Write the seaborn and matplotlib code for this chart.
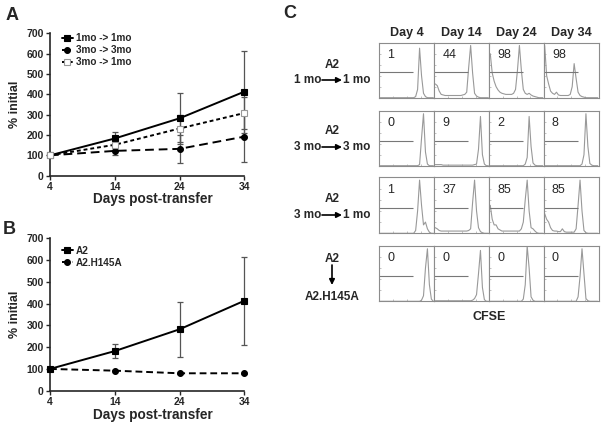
import numpy as np
import matplotlib.pyplot as plt
import seaborn as sns

sns.set_style('ticks')
plt.rcParams['font.family'] = ['Liberation Sans', 'DejaVu Sans']

W, H = 603, 424

# ---------------- data ----------------
days = [4, 14, 24, 34]

# Panel A: % initial
a_1to1 = [100, 183, 282, 413]
a_1to1_err = [0, 32, 125, 202]
a_3to3 = [100, 122, 132, 192]
a_3to3_err = [0, 20, 68, 123]
a_3to1 = [100, 152, 232, 308]
a_3to1_err = [0, 15, 65, 80]

# Panel B: % initial
b_a2 = [100, 182, 282, 413]
b_a2_err = [0, 33, 125, 202]
b_h145a = [100, 92, 80, 80]
b_h145a_err = [0, 3, 3, 3]

# Panel C: CFSE histograms (28 bins, relative counts)
day_labels = ['Day 4', 'Day 14', 'Day 24', 'Day 34']
row_from = ['1 mo', '3 mo', '3 mo']
row_to = ['1 mo', '3 mo', '1 mo']
pct_divided = [[1, 44, 98, 98],
               [0, 9, 2, 8],
               [1, 37, 85, 85],
               [0, 0, 0, 0]]

hist_1to1 = [
    [0]*18 + [2, 15, 90, 40, 8, 2] + [0]*4,
    [25, 22, 12, 6, 5] + [4]*9 + [5, 6, 10, 55, 95, 45, 8, 3, 1] + [0]*5,
    [80, 45, 30, 20, 14, 10, 8, 7, 6, 6, 6, 6, 8, 15, 50, 95, 50, 15, 8, 6,
     8, 5, 3, 2, 1, 0, 0, 0],
    [95, 40, 25, 12, 8, 6, 10, 5, 4, 4, 4, 4, 4, 6, 20, 62, 35, 10, 4, 2,
     1] + [0]*7,
]
hist_3to3 = [
    [0]*20 + [2, 50, 95, 25, 3] + [0]*3,
    [2]*4 + [1]*16 + [2, 3, 30, 90, 20, 3, 0, 0],
    [0]*18 + [3, 15, 90, 35, 5, 1] + [0]*4,
    [0]*19 + [3, 20, 95, 35, 4, 1] + [0]*3,
]
hist_3to1 = [
    [0]*18 + [5, 40, 95, 50, 15, 20, 8, 2] + [0]*2,
    [10, 8, 5] + [4]*14 + [5, 8, 55, 95, 40, 10, 3, 1, 0, 0, 0],
    [50, 25, 15, 15, 8, 6] + [4]*10 + [8, 20, 60, 95, 40, 10, 8, 4, 1, 0, 0, 0],
    [35, 25, 20, 10, 5, 4, 4, 3, 3, 8, 3] + [2]*5 + [8, 50, 95, 40, 5, 1] + [0]*6,
]
hist_h145a = [
    [0]*21 + [2, 10, 60, 95, 30, 4, 0],
    [1]*19 + [2, 5, 12, 50, 92, 25, 3, 0, 0],
    [0]*17 + [4, 30, 100, 60, 8, 2] + [0]*5,
    [0]*17 + [8, 45, 95, 50, 5, 1] + [0]*5,
]
histograms = [hist_1to1, hist_3to3, hist_3to1, hist_h145a]
gate_level = 46

# ---------------- figure ----------------
fig = plt.figure(figsize=(W / 100, H / 100), dpi=100)

ov = fig.add_axes([0, 0, 1, 1])
ov.set_xlim(0, W)
ov.set_ylim(H, 0)
ov.axis('off')


def px_axes(x0, y0, x1, y1):
    return fig.add_axes([x0 / W, 1 - y1 / H, (x1 - x0) / W, (y1 - y0) / H])


def draw_series(ax, y, err, label, ls, marker, mfc, mec='black'):
    ax.errorbar(days, y, yerr=err, fmt='none', ecolor='#555555',
                elinewidth=0.9, capsize=2.2, capthick=0.9, clip_on=False,
                zorder=2)
    sns.lineplot(x=days, y=y, ax=ax, color='black', linestyle=ls,
                 marker=marker, markersize=4.2, markerfacecolor=mfc,
                 markeredgecolor=mec, markeredgewidth=0.8, linewidth=1.4,
                 label=label, errorbar=None, clip_on=False, zorder=3)


def style_line_axes(ax, xlab_y):
    ax.set_xlim(4, 34)
    ax.set_ylim(0, 700)
    ax.set_xticks(days)
    ax.set_yticks(range(0, 701, 100))
    sns.despine(ax=ax)
    for s in ['left', 'bottom']:
        ax.spines[s].set_linewidth(1.2)
    ax.tick_params(direction='out', length=3, width=1, pad=1.5, labelsize=7.5)
    for t in ax.get_xticklabels() + ax.get_yticklabels():
        t.set_fontweight('bold')
    ax.set_xlabel('Days post-transfer', fontsize=9.8, fontweight='bold')
    ax.set_ylabel('% initial', fontsize=9, fontweight='bold')
    ax.xaxis.set_label_coords(0.53, xlab_y)
    ax.yaxis.set_label_coords(-0.15, 0.5)


# Panel A
axA = px_axes(50, 33.3, 244.3, 175.7)
draw_series(axA, a_1to1, a_1to1_err, '1mo -> 1mo', '-', 's', 'black')
draw_series(axA, a_3to3, a_3to3_err, '3mo -> 3mo', (0, (4.5, 2.5)), 'o', 'black')
draw_series(axA, a_3to1, a_3to1_err, '3mo -> 1mo', (0, (2, 1.5)), 's', 'white', '#999999')
style_line_axes(axA, -0.115)
axA.legend(loc='upper left', bbox_to_anchor=(0.06, 1.0), frameon=False,
           handlelength=1.1, handletextpad=0.3, labelspacing=0.2,
           borderpad=0, borderaxespad=0,
           prop={'weight': 'bold', 'size': 7.2})

# Panel B
axB = px_axes(50, 238.3, 244.3, 390.7)
draw_series(axB, b_a2, b_a2_err, 'A2', '-', 's', 'black')
draw_series(axB, b_h145a, b_h145a_err, 'A2.H145A', (0, (3.5, 2)), 'o', 'black')
style_line_axes(axB, -0.112)
axB.legend(loc='upper left', bbox_to_anchor=(0.06, 0.95), frameon=False,
           handlelength=1.1, handletextpad=0.3, labelspacing=0.2,
           borderpad=0, borderaxespad=0,
           prop={'weight': 'bold', 'size': 7.2})

# Panel letters
for letter, (x, y) in zip('ABC', [(12, 15), (9, 230), (290, 13)]):
    ov.text(x, y, letter, fontsize=13, fontweight='bold', ha='center', va='center')

# Panel C grid
col_edges = [379.3, 434.3, 489.3, 543.7, 598.7]
row_spans = [(42.7, 97.7), (111, 165.7), (177.3, 233.3), (246, 301.3)]
xc = (np.arange(28) + 0.5) / 28

for r, (top, bot) in enumerate(row_spans):
    for c in range(4):
        ax = px_axes(col_edges[c], top, col_edges[c + 1], bot)
        sns.lineplot(x=xc, y=histograms[r][c], ax=ax, color='#999999',
                     linewidth=0.8, errorbar=None)
        ax.hlines(gate_level, 0, 0.62, color='#777777', linewidth=0.8)
        ax.text(0.15, 0.78, str(pct_divided[r][c]), transform=ax.transAxes,
                fontsize=9, va='center', ha='left')
        ax.set_xlim(0, 1)
        ax.set_ylim(0, 100)
        ax.set_xticks([0.25, 0.5, 0.75])
        ax.set_yticks([20, 40, 60, 80])
        ax.tick_params(direction='in', length=1.5, width=0.5,
                       colors='#aaaaaa', labelleft=False, labelbottom=False)
        for s in ax.spines.values():
            s.set_color('#8c8c8c')
            s.set_linewidth(0.8)

for c, lab in enumerate(day_labels):
    ov.text((col_edges[c] + col_edges[c + 1]) / 2, 32.7, lab, fontsize=9,
            fontweight='bold', ha='center', va='center')

# Row labels
label_x = 332
a2_y = [65, 131, 199]
arrow_y = [80, 147, 215]
for r in range(3):
    ov.text(label_x, a2_y[r], 'A2', fontsize=8.5, fontweight='bold',
            ha='center', va='center')
    ov.text(label_x - 11, arrow_y[r], row_from[r], fontsize=8.5,
            fontweight='bold', ha='right', va='center')
    ov.text(label_x + 11, arrow_y[r], row_to[r], fontsize=8.5,
            fontweight='bold', ha='left', va='center')
    ov.annotate('', xy=(label_x + 10, arrow_y[r]), xytext=(label_x - 10, arrow_y[r]),
                arrowprops=dict(arrowstyle='-|>', color='black', lw=1.2,
                                mutation_scale=8, shrinkA=0, shrinkB=0))

ov.text(label_x, 259, 'A2', fontsize=8.5, fontweight='bold', ha='center', va='center')
ov.annotate('', xy=(label_x, 285), xytext=(label_x, 265),
            arrowprops=dict(arrowstyle='-|>', color='black', lw=1.2,
                            mutation_scale=8, shrinkA=0, shrinkB=0))
ov.text(label_x, 297, 'A2.H145A', fontsize=8.5, fontweight='bold',
        ha='center', va='center')

ov.text(489, 317, 'CFSE', fontsize=9, fontweight='bold', ha='center', va='center')

fig.savefig('out.png', dpi=100)
